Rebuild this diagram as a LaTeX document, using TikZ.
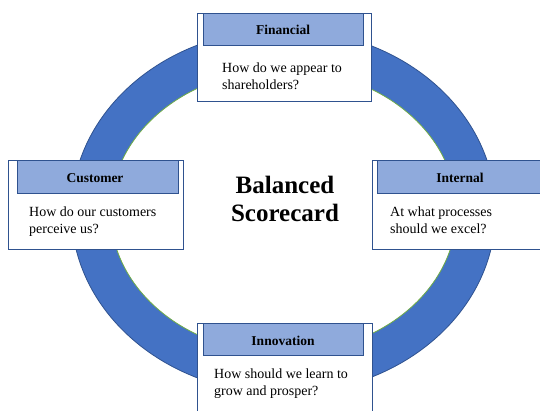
\documentclass[tikz,border=0pt]{standalone}
\usepackage{fontspec}
\setmainfont{Liberation Serif}
\definecolor{ringblue}{HTML}{4472C4}
\definecolor{ringedge}{HTML}{2F528F}
\definecolor{ringgreen}{HTML}{70AD47}
\definecolor{headfill}{HTML}{8FAADC}
\definecolor{boxedge}{HTML}{2F528F}
\begin{document}
\begin{tikzpicture}[x=1pt,y=-1pt,
  outerbox/.style={draw=boxedge, line width=1.2pt, fill=white, rectangle, inner sep=0pt, anchor=north west},
  headbox/.style={draw=boxedge, line width=1pt, fill=headfill, rectangle, inner sep=0pt, anchor=north west},
  headtext/.style={font=\fontsize{13.5}{16}\selectfont\bfseries, inner sep=0pt, anchor=base},
  bodytext/.style={inner sep=0pt, anchor=base west},
  titletext/.style={font=\fontsize{25}{28}\selectfont\bfseries, align=center, inner sep=0pt}]
\newcommand{\bodypar}[1]{\parbox[t]{160pt}{\fontsize{14}{17.5}\selectfont\raggedright #1}}
\useasboundingbox (0,0) rectangle (540,410);
% ring
\fill[ringblue, even odd rule] (283.5,211.5) ellipse [x radius=212, y radius=182]
                               (283.5,211.5) ellipse [x radius=173, y radius=142];
\draw[ringedge, line width=0.8pt] (283.5,211.5) ellipse [x radius=212, y radius=182];
\draw[ringgreen, line width=0.8pt] (283.5,211.5) ellipse [x radius=173, y radius=142];
% title
\node[titletext] (title) at (285,199) {Balanced\\Scorecard};
% Financial
\node[outerbox, minimum width=174.5pt, minimum height=88pt] (finbox) at (196.5,12.5) {};
\node[headbox, minimum width=160pt, minimum height=32.5pt] (finhead) at (203,12.5) {};
\node[headtext] (fintitle) at (283,34) {Financial};
\node[bodytext] (finbody) at (222,72) {\bodypar{How do we appear to\\shareholders?}};
% Customer
\node[outerbox, minimum width=175pt, minimum height=89pt] (cusbox) at (8,160) {};
\node[headbox, minimum width=161pt, minimum height=33pt] (cushead) at (17,160) {};
\node[headtext] (custitle) at (95,182) {Customer};
\node[bodytext] (cusbody) at (29,216) {\bodypar{How do our customers\\perceive us?}};
% Internal
\node[outerbox, minimum width=175pt, minimum height=89pt] (intbox) at (372,160) {};
\node[headbox, minimum width=165pt, minimum height=33pt] (inthead) at (377,160) {};
\node[headtext] (inttitle) at (460,182) {Internal};
\node[bodytext] (intbody) at (390,216) {\bodypar{At what processes\\should we excel?}};
% Innovation
\node[outerbox, minimum width=175pt, minimum height=92pt] (innbox) at (196.5,323) {};
\node[headbox, minimum width=160pt, minimum height=32pt] (innhead) at (203,323) {};
\node[headtext] (inntitle) at (283,345) {Innovation};
\node[bodytext] (innbody) at (214,378) {\bodypar{How should we learn to\\grow and prosper?}};
\end{tikzpicture}
\end{document}
